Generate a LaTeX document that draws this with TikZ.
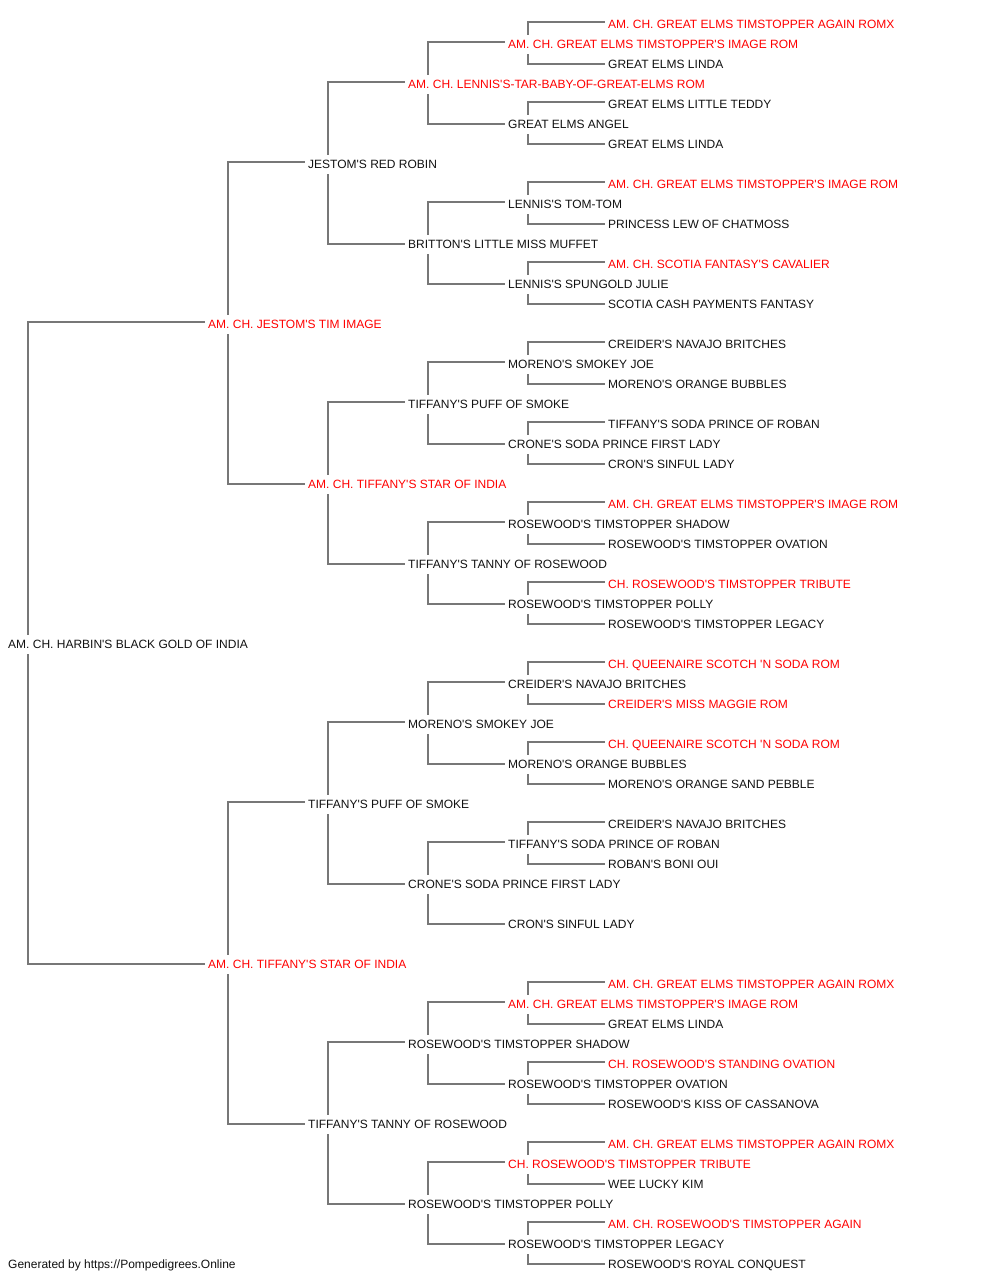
\documentclass[tikz,border=0pt]{standalone}
\usepackage{fontspec}
\newfontfamily\pedfont{Liberation Sans}
\definecolor{champred}{HTML}{FF0000}
\definecolor{linegray}{HTML}{777777}
\definecolor{pedtext}{HTML}{111111}
\tikzset{
  pn/.style={anchor=base west, inner sep=0pt, text height=13pt, text depth=6pt,
             font=\pedfont\fontsize{12pt}{14pt}\selectfont, text=pedtext},
  champ/.style={pn, text=champred},
  link/.style={draw=linegray, line width=1.6pt}
}
\newcommand\pedn[4]{\node[#1] (n#2) at ({8+100*#3+100*(#3>0)},{20*#2+8}) {#4};}
\newcommand\pedlink[3]{%
  \draw[link] ([xshift=20pt]n#1.north west) |- ([xshift=-3pt,yshift=2.5pt]n#2.west);
  \draw[link] ([xshift=20pt]n#1.south west) |- ([xshift=-3pt,yshift=0.5pt]n#3.west);}
\begin{document}
\begin{tikzpicture}[x=1pt,y=-1pt]
\useasboundingbox (0,0) rectangle (1000,1280);
% generation 0
\pedn{pn}{32}{0}{AM. CH. HARBIN'S BLACK GOLD OF INDIA}
% generation 1
\pedn{champ}{16}{1}{AM. CH. JESTOM'S TIM IMAGE}
\pedn{champ}{48}{1}{AM. CH. TIFFANY'S STAR OF INDIA}
% generation 2
\pedn{pn}{8}{2}{JESTOM'S RED ROBIN}
\pedn{champ}{24}{2}{AM. CH. TIFFANY'S STAR OF INDIA}
\pedn{pn}{40}{2}{TIFFANY'S PUFF OF SMOKE}
\pedn{pn}{56}{2}{TIFFANY'S TANNY OF ROSEWOOD}
% generation 3
\pedn{champ}{4}{3}{AM. CH. LENNIS'S-TAR-BABY-OF-GREAT-ELMS ROM}
\pedn{pn}{12}{3}{BRITTON'S LITTLE MISS MUFFET}
\pedn{pn}{20}{3}{TIFFANY'S PUFF OF SMOKE}
\pedn{pn}{28}{3}{TIFFANY'S TANNY OF ROSEWOOD}
\pedn{pn}{36}{3}{MORENO'S SMOKEY JOE}
\pedn{pn}{44}{3}{CRONE'S SODA PRINCE FIRST LADY}
\pedn{pn}{52}{3}{ROSEWOOD'S TIMSTOPPER SHADOW}
\pedn{pn}{60}{3}{ROSEWOOD'S TIMSTOPPER POLLY}
% generation 4
\pedn{champ}{2}{4}{AM. CH. GREAT ELMS TIMSTOPPER'S IMAGE ROM}
\pedn{pn}{6}{4}{GREAT ELMS ANGEL}
\pedn{pn}{10}{4}{LENNIS'S TOM-TOM}
\pedn{pn}{14}{4}{LENNIS'S SPUNGOLD JULIE}
\pedn{pn}{18}{4}{MORENO'S SMOKEY JOE}
\pedn{pn}{22}{4}{CRONE'S SODA PRINCE FIRST LADY}
\pedn{pn}{26}{4}{ROSEWOOD'S TIMSTOPPER SHADOW}
\pedn{pn}{30}{4}{ROSEWOOD'S TIMSTOPPER POLLY}
\pedn{pn}{34}{4}{CREIDER'S NAVAJO BRITCHES}
\pedn{pn}{38}{4}{MORENO'S ORANGE BUBBLES}
\pedn{pn}{42}{4}{TIFFANY'S SODA PRINCE OF ROBAN}
\pedn{pn}{46}{4}{CRON'S SINFUL LADY}
\pedn{champ}{50}{4}{AM. CH. GREAT ELMS TIMSTOPPER'S IMAGE ROM}
\pedn{pn}{54}{4}{ROSEWOOD'S TIMSTOPPER OVATION}
\pedn{champ}{58}{4}{CH. ROSEWOOD'S TIMSTOPPER TRIBUTE}
\pedn{pn}{62}{4}{ROSEWOOD'S TIMSTOPPER LEGACY}
% generation 5
\pedn{champ}{1}{5}{AM. CH. GREAT ELMS TIMSTOPPER AGAIN ROMX}
\pedn{pn}{3}{5}{GREAT ELMS LINDA}
\pedn{pn}{5}{5}{GREAT ELMS LITTLE TEDDY}
\pedn{pn}{7}{5}{GREAT ELMS LINDA}
\pedn{champ}{9}{5}{AM. CH. GREAT ELMS TIMSTOPPER'S IMAGE ROM}
\pedn{pn}{11}{5}{PRINCESS LEW OF CHATMOSS}
\pedn{champ}{13}{5}{AM. CH. SCOTIA FANTASY'S CAVALIER}
\pedn{pn}{15}{5}{SCOTIA CASH PAYMENTS FANTASY}
\pedn{pn}{17}{5}{CREIDER'S NAVAJO BRITCHES}
\pedn{pn}{19}{5}{MORENO'S ORANGE BUBBLES}
\pedn{pn}{21}{5}{TIFFANY'S SODA PRINCE OF ROBAN}
\pedn{pn}{23}{5}{CRON'S SINFUL LADY}
\pedn{champ}{25}{5}{AM. CH. GREAT ELMS TIMSTOPPER'S IMAGE ROM}
\pedn{pn}{27}{5}{ROSEWOOD'S TIMSTOPPER OVATION}
\pedn{champ}{29}{5}{CH. ROSEWOOD'S TIMSTOPPER TRIBUTE}
\pedn{pn}{31}{5}{ROSEWOOD'S TIMSTOPPER LEGACY}
\pedn{champ}{33}{5}{CH. QUEENAIRE SCOTCH 'N SODA ROM}
\pedn{champ}{35}{5}{CREIDER'S MISS MAGGIE ROM}
\pedn{champ}{37}{5}{CH. QUEENAIRE SCOTCH 'N SODA ROM}
\pedn{pn}{39}{5}{MORENO'S ORANGE SAND PEBBLE}
\pedn{pn}{41}{5}{CREIDER'S NAVAJO BRITCHES}
\pedn{pn}{43}{5}{ROBAN'S BONI OUI}
\pedn{champ}{49}{5}{AM. CH. GREAT ELMS TIMSTOPPER AGAIN ROMX}
\pedn{pn}{51}{5}{GREAT ELMS LINDA}
\pedn{champ}{53}{5}{CH. ROSEWOOD'S STANDING OVATION}
\pedn{pn}{55}{5}{ROSEWOOD'S KISS OF CASSANOVA}
\pedn{champ}{57}{5}{AM. CH. GREAT ELMS TIMSTOPPER AGAIN ROMX}
\pedn{pn}{59}{5}{WEE LUCKY KIM}
\pedn{champ}{61}{5}{AM. CH. ROSEWOOD'S TIMSTOPPER AGAIN}
\pedn{pn}{63}{5}{ROSEWOOD'S ROYAL CONQUEST}
% connectors
\foreach \p/\u/\l in {32/16/48,
  16/8/24, 48/40/56,
  8/4/12, 24/20/28, 40/36/44, 56/52/60,
  4/2/6, 12/10/14, 20/18/22, 28/26/30, 36/34/38, 44/42/46, 52/50/54, 60/58/62,
  2/1/3, 6/5/7, 10/9/11, 14/13/15, 18/17/19, 22/21/23, 26/25/27, 30/29/31,
  34/33/35, 38/37/39, 42/41/43, 50/49/51, 54/53/55, 58/57/59, 62/61/63}
  {\pedlink{\p}{\u}{\l}}
% footer
\node[pn] (footer) at (8,1268) {Generated by https://Pompedigrees.Online};
\end{tikzpicture}
\end{document}
